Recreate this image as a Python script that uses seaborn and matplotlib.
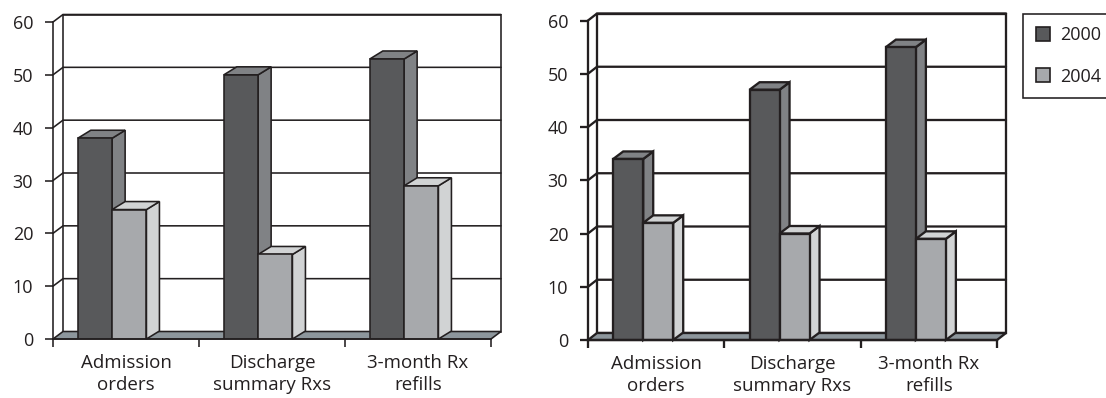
import numpy as np
import pandas as pd
import matplotlib
matplotlib.use("Agg")
import matplotlib.pyplot as plt
from matplotlib.patches import Polygon, Patch
from matplotlib.lines import Line2D
import matplotlib.colors as mcolors
import seaborn as sns

# ---- data -------------------------------------------------------------
categories = ["Admission\norders", "Discharge\nsummary Rxs", "3-month Rx\nrefills"]
years = ["2000", "2004"]
left_2000 = [38, 50, 53]
left_2004 = [24.5, 16, 29]
right_2000 = [34, 47, 55]
right_2004 = [22, 20, 19]
y_ticks = [0, 10, 20, 30, 40, 50, 60]

# ---- style ------------------------------------------------------------
FRONT = {"2000": "#58595b", "2004": "#a7a9ac"}
SIDE = {"2000": "#808285", "2004": "#d1d3d4"}
FLOOR = "#8d969c"
INK = "#231f20"

sns.set_theme(style="white")
plt.rcParams["font.family"] = ["Open Sans", "DejaVu Sans"]

W, H = 1106, 398
fig = plt.figure(figsize=(W / 100, H / 100), dpi=100)

PX = 0.72  # points per pixel at 100 dpi
XLO = -0.405  # left edge of the first category slot

# panel geometry in pixels: front axis x-range, y of 0 and 60, depth offsets, line width
panels = [
    dict(x0=53, x1=491, y0=339, y60=22, wall=(10, 7.5), depth=(13, 8), lw=1.6, width=0.47,
         v2000=left_2000, v2004=left_2004),
    dict(x0=588, x1=997, y0=340, y60=20.5, wall=(9, 7), depth=(10, 7.5), lw=2.3, width=0.44,
         v2000=right_2000, v2004=right_2004),
]


def draw_panel(spec):
    ax = fig.add_axes([spec["x0"] / W, 1 - spec["y0"] / H,
                       (spec["x1"] - spec["x0"]) / W, (spec["y0"] - spec["y60"]) / H])
    ax.set_facecolor("none")
    lw = spec["lw"] * PX

    df = pd.DataFrame({
        "category": categories * 2,
        "year": [years[0]] * len(categories) + [years[1]] * len(categories),
        "value": spec["v2000"] + spec["v2004"],
    })
    sns.barplot(data=df, x="category", y="value", hue="year", order=categories,
                hue_order=years, palette=FRONT, width=spec["width"], saturation=1,
                edgecolor=INK, linewidth=lw, legend=False, ax=ax)

    xl, xr = XLO, XLO + len(categories)
    ax.set_xlim(xl, xr)
    ax.set_ylim(y_ticks[0], y_ticks[-1])

    # pixel offsets expressed in data units
    ux = (xr - xl) / (spec["x1"] - spec["x0"])
    uy = (y_ticks[-1] - y_ticks[0]) / (spec["y0"] - spec["y60"])
    wdx, wdy = spec["wall"][0] * ux, spec["wall"][1] * uy
    bdx, bdy = spec["depth"][0] * ux, spec["depth"][1] * uy
    top = y_ticks[-1]

    # back wall
    ax.add_patch(Polygon([(xl + wdx, wdy), (xr + wdx, wdy), (xr + wdx, top + wdy),
                          (xl + wdx, top + wdy)], closed=True, facecolor="white",
                         edgecolor=INK, linewidth=lw, zorder=0.5, clip_on=False))
    # gridlines running from the front axis onto the back wall
    for v in y_ticks[1:]:
        ax.add_line(Line2D([xl, xl + wdx, xr + wdx], [v, v + wdy, v + wdy], color=INK,
                           linewidth=lw, zorder=0.6, clip_on=False,
                           solid_joinstyle="miter"))
    # floor
    ax.add_patch(Polygon([(xl, 0), (xr, 0), (xr + wdx, wdy), (xl + wdx, wdy)], closed=True,
                         facecolor=FLOOR, edgecolor=INK, linewidth=lw, zorder=0.7,
                         clip_on=False))

    # side and top faces of every bar
    front_to_year = {mcolors.to_hex(c): y for y, c in FRONT.items()}
    for p in ax.patches:
        if not hasattr(p, "get_width") or p.zorder < 1:
            continue
        yr = front_to_year.get(mcolors.to_hex(p.get_facecolor()))
        if yr is None:
            continue
        x0, w, h = p.get_x(), p.get_width(), p.get_height()
        x1 = x0 + w
        p.set_zorder(3)
        side = Polygon([(x1, 0), (x1, h), (x1 + bdx, h + bdy), (x1 + bdx, bdy)], closed=True,
                       facecolor=SIDE[yr], edgecolor=INK, linewidth=lw, zorder=2,
                       clip_on=False, joinstyle="miter")
        cap = Polygon([(x0, h), (x1, h), (x1 + bdx, h + bdy), (x0 + bdx, h + bdy)], closed=True,
                      facecolor=SIDE[yr], edgecolor=INK, linewidth=lw, zorder=2,
                      clip_on=False, joinstyle="miter")
        ax.add_patch(side)
        ax.add_patch(cap)

    # axes frame: front vertical axis and floor front edge
    for s in ("top", "right"):
        ax.spines[s].set_visible(False)
    for s in ("left", "bottom"):
        ax.spines[s].set_visible(True)
        ax.spines[s].set_color(INK)
        ax.spines[s].set_linewidth(lw)
        ax.spines[s].set_zorder(4)

    ax.set_yticks(y_ticks)
    ax.tick_params(axis="y", which="major", left=True, direction="out", length=8 * PX,
                   width=lw, color=INK, pad=8.5, labelsize=13, labelcolor=INK)

    centers = [xl + i + 0.5 for i in range(len(categories))]
    ax.set_xticks(centers, labels=categories)
    ax.set_xticks([xl + i for i in range(len(categories) + 1)], minor=True)
    ax.tick_params(axis="x", which="major", bottom=False, length=0, pad=11,
                   labelsize=13.5, labelcolor=INK)
    ax.tick_params(axis="x", which="minor", bottom=True, direction="out", length=8 * PX,
                   width=lw, color=INK)
    for t in ax.get_xticklabels():
        t.set_linespacing(1.3)
    ax.set_xlabel("")
    ax.set_ylabel("")
    return ax


for spec in panels:
    draw_panel(spec)

handles = [Patch(facecolor=FRONT[y], edgecolor=INK, linewidth=1.2) for y in years]
leg = fig.legend(handles=handles, labels=years, loc="upper left",
                 bbox_to_anchor=(1023 / W, 1 - 13.5 / H), bbox_transform=fig.transFigure,
                 frameon=True, fancybox=False, framealpha=1, edgecolor=INK, fontsize=13,
                 handlelength=0.8, handleheight=0.8, handletextpad=0.55, labelspacing=1.3,
                 borderpad=0.7, borderaxespad=0)
leg.get_frame().set_linewidth(1.6 * PX)
for t in leg.get_texts():
    t.set_color(INK)

fig.savefig("out.png", dpi=100, facecolor="white")
